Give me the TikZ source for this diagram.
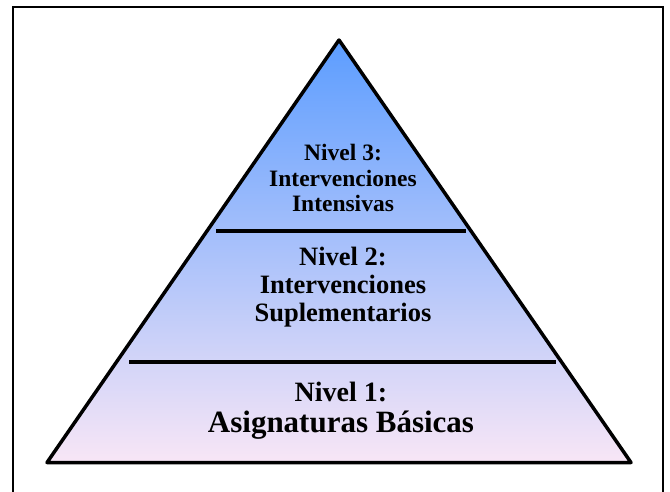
\documentclass[tikz,border=0pt]{standalone}
\usepackage{fontspec}
\setmainfont{Liberation Serif}
\usetikzlibrary{positioning,calc}

\definecolor{azulcima}{HTML}{5C9DFF}
\definecolor{azulmedio}{HTML}{96C4F6}
\definecolor{rosabase}{HTML}{F8E6F6}

\begin{document}
\begin{tikzpicture}[x=1pt, y=-1pt]
  \tikzstyle{nivel}=[align=center, inner sep=0pt]
  \tikzstyle{division}=[line width=4pt, black]

  \useasboundingbox (0,0) rectangle (670,491);

  % Marco
  \draw[line width=2pt] (12.5,7) rectangle (662.5,520);

  % Piramide
  \coordinate (cima) at (339,40);
  \coordinate (izq) at (47,462.5);
  \coordinate (der) at (631,462.5);
  \shade[top color=azulcima, middle color=azulmedio, bottom color=rosabase]
    (cima) -- (izq) -- (der) -- cycle;
  \draw[line width=3.5pt, line join=round] (cima) -- (izq) -- (der) -- cycle;

  % Divisiones
  \draw[division] (216,231) -- (466,231);
  \draw[division] (129,362) -- (556,362);

  % Niveles
  \node[nivel, font=\fontsize{23.5}{25.5}\selectfont\bfseries] (nivel3) at (343,178)
    {Nivel 3:\\Intervenciones\\Intensivas};
  \node[nivel, font=\fontsize{26.5}{28}\selectfont\bfseries] (nivel2) at (343,287)
    {Nivel 2:\\Intervenciones\\Suplementarios};
  \node[nivel, font=\fontsize{28}{31}\selectfont\bfseries] (nivel1) at (341,411)
    {Nivel 1:\\{\fontsize{31}{31}\selectfont Asignaturas Básicas}};
\end{tikzpicture}
\end{document}
